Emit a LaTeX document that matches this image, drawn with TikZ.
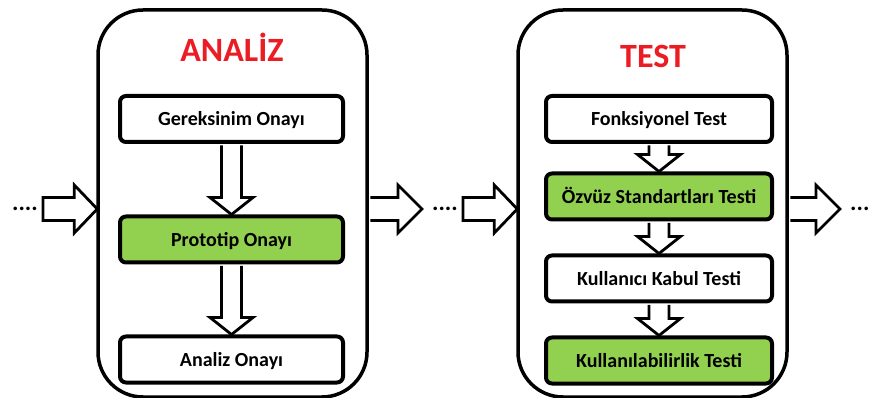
\documentclass[tikz,border=0pt]{standalone}
\usepackage{fontspec}
\setmainfont{Carlito}
\usetikzlibrary{positioning, calc}

\definecolor{phasered}{HTML}{EC1C24}
\definecolor{stagegreen}{HTML}{92D050}

\tikzset{
    phase/.style={draw, line width=3.5pt, rounded corners=45pt, minimum width=269pt, minimum height=387pt},
    phasetitle/.style={text=phasered, anchor=base, font=\fontsize{34}{38}\selectfont\bfseries},
    stage/.style={draw, line width=4pt, rounded corners=6pt, fill=white, minimum height=46pt,
        text height=14pt, text depth=0pt, font=\fontsize{20}{24}\selectfont\bfseries},
    done/.style={stage, fill=stagegreen},
    etc/.style={inner sep=0pt, font=\fontsize{24}{24}\selectfont\bfseries},
    blk/.style={draw, line width=2.8pt, fill=white, line join=miter},
    blkdown/.style={blk, to path={let \p1=(\tikztostart), \p2=(\tikztotarget) in
        (\x1-10pt,\y1-1.5pt) -- (\x1-10pt,\y2+17pt) -- (\x1-21.5pt,\y2+17pt) -- (\x1,\y2)
        -- (\x1+21.5pt,\y2+17pt) -- (\x1+10pt,\y2+17pt) -- (\x1+10pt,\y1-1.5pt)}},
    blkin/.style={blk, to path={let \p1=(\tikztostart), \p2=(\tikztotarget) in
        (\x1+5pt,\y1+11.5pt) -- (\x2-22pt,\y1+11.5pt) -- (\x2-22pt,\y1+24pt) -- (\x2+1pt,\y1)
        -- (\x2-22pt,\y1-24pt) -- (\x2-22pt,\y1-11.5pt) -- (\x1+5pt,\y1-11.5pt) -- cycle}},
    blkout/.style={blk, to path={let \p1=(\tikztostart), \p2=(\tikztotarget) in
        (\x1+1.5pt,\y2+11.5pt) -- (\x2-34pt,\y2+11.5pt) -- (\x2-34pt,\y2+24pt) -- (\x2-10pt,\y2)
        -- (\x2-34pt,\y2-24pt) -- (\x2-34pt,\y2-11.5pt) -- (\x1+1.5pt,\y2-11.5pt)}},
}

\begin{document}
\begin{tikzpicture}[x=1pt, y=-1pt]
    \useasboundingbox (0,0) rectangle (871,398);

    \node[phase] (analiz) at (232.5, 203.5) {}; % analiz
    \node[phase] (test) at (652.5, 203.5) {}; % test
    \node[phasetitle] (analizT) at (232, 62) {ANALİZ};
    \node[phasetitle] (testT) at (653, 68) {TEST};

    \node[stage, minimum width=223pt] (gereksinim) at (231.5, 119) {Gereksinim Onayı};
    \node[done, minimum width=223pt] (prototip) at (231.5, 239.5) {Prototip Onayı};
    \node[stage, minimum width=223pt] (onay) at (231.5, 359.5) {Analiz Onayı};

    \node[stage, minimum width=226pt] (fonk) at (659, 119) {Fonksiyonel Test};
    \node[done, minimum width=226pt] (ozvuz) at (659, 196.5) {Özvüz Standartları Testi};
    \node[stage, minimum width=226pt] (kabul) at (659, 278.5) {Kullanıcı Kabul Testi};
    \node[done, minimum width=226pt] (kullan) at (659, 360.5) {Kullanılabilirlik Testi};

    \node[etc] (etcA) at (25, 209) {....};
    \node[etc] (etcB) at (445, 209) {....};
    \node[etc, anchor=west] (etcC) at (850, 209) {...};

    \draw
        (gereksinim.south) edge[blkdown] (prototip.north)
        (prototip.south) edge[blkdown] (onay.north)
        (fonk.south) edge[blkdown] (ozvuz.north)
        (ozvuz.south) edge[blkdown] (kabul.north)
        (kabul.south) edge[blkdown] (kullan.north)
        (etcA.east) edge[blkin] (analiz.west)
        (analiz.east) edge[blkout] (etcB.west)
        (etcB.east) edge[blkin] (test.west)
        (test.east) edge[blkout] (etcC.west)
        ;
\end{tikzpicture}
\end{document}
